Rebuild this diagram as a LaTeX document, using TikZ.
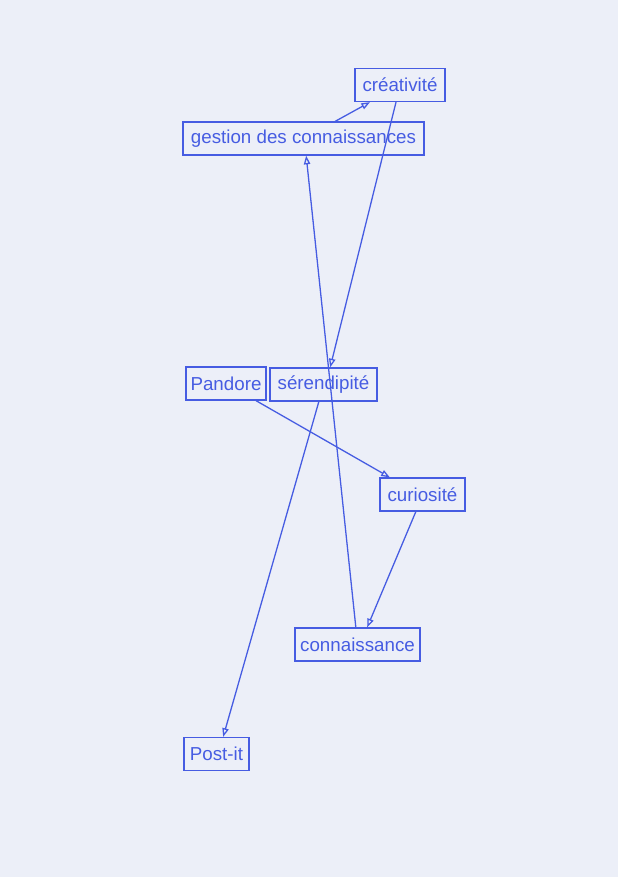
\documentclass[tikz,border=0pt]{standalone}
\usepackage{fontspec}
\setmainfont{Liberation Sans}
\usepackage{tikz}
\usetikzlibrary{arrows.meta}
\definecolor{ink}{RGB}{70,92,226}
\definecolor{paper}{RGB}{236,239,248}

\begin{document}
\begin{tikzpicture}[
    x=0.03cm, y=-0.03cm,
    concept/.style={rectangle, draw=ink, text=ink, line width=1.1pt,
                    minimum height=0.99cm, inner sep=1pt,
                    font=\fontsize{16}{19}\selectfont},
    arr/.style={-{Triangle[open, length=2.6mm, width=1.9mm]}, draw=ink, line width=1.1pt},
]
    % sheet
    \fill[paper] (0,0) rectangle (618,877);

    \node[concept, minimum width=2.7cm] (crea) at (400,85) {créativité};
    \node[concept, minimum width=7.23cm] (gestion) at (303.5,138.5) {gestion des connaissances};
    \node[concept, minimum width=2.4cm] (pandore) at (226,383.5) {Pandore};
    \node[concept, minimum width=3.21cm] (seren) at (323.5,384.5) {sérendipité};
    \node[concept, minimum width=2.55cm] (curio) at (422.5,494.5) {curiosité};
    \node[concept, minimum width=3.75cm] (conn) at (357.5,644.5) {connaissance};
    \node[concept, minimum width=1.95cm] (postit) at (216.5,754) {Post-it};

    \draw[arr] ([xshift=0.95cm]gestion.north) -- ([xshift=-0.9cm]crea.south);
    \draw[arr] ([xshift=-0.12cm]crea.south) -- ([xshift=0.2cm]seren.north);
    \draw[arr] ([xshift=-0.05cm]conn.north) -- ([xshift=0.08cm]gestion.south);
    \draw[arr] ([xshift=0.9cm]pandore.south) -- ([xshift=-0.98cm]curio.north);
    \draw[arr] ([xshift=-0.2cm]curio.south) -- ([xshift=0.29cm]conn.north);
    \draw[arr] ([xshift=-0.14cm]seren.south) -- ([xshift=0.2cm]postit.north);
\end{tikzpicture}
\end{document}
